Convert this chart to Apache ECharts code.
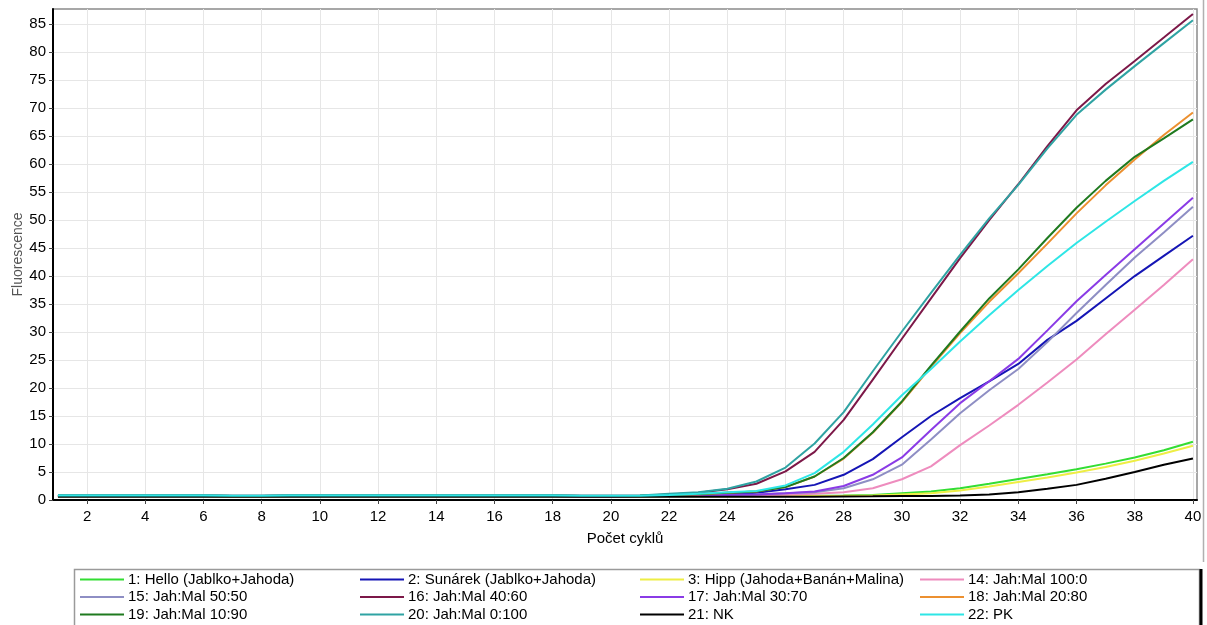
<!DOCTYPE html>
<html>
<head>
<meta charset="utf-8">
<script src="https://cdn.jsdelivr.net/npm/echarts@6/dist/echarts.min.js"></script>
<style>
  html, body { margin: 0; padding: 0; background: #fff; }
  #chart { width: 1207px; height: 625px; }
</style>
</head>
<body>
<div id="chart"></div>
<script>
// qPCR amplification curves: fluorescence per cycle for each sample
const cycles = [1,2,3,4,5,6,7,8,9,10,11,12,13,14,15,16,17,18,19,20,21,22,23,24,25,26,27,28,29,30,31,32,33,34,35,36,37,38,39,40];

const xTickValues = [2,4,6,8,10,12,14,16,18,20,22,24,26,28,30,32,34,36,38,40];
const yTickValues = [0,5,10,15,20,25,30,35,40,45,50,55,60,65,70,75,80,85];

const seriesNames = [
  '1: Hello (Jablko+Jahoda)', '2: Sunárek (Jablko+Jahoda)', '3: Hipp (Jahoda+Banán+Malina)', '14: Jah:Mal 100:0',
  '15: Jah:Mal 50:50', '16: Jah:Mal 40:60', '17: Jah:Mal 30:70', '18: Jah:Mal 20:80',
  '19: Jah:Mal 10:90', '20: Jah:Mal 0:100', '21: NK', '22: PK'
];

const seriesColors = [
  '#33dd33', '#1515b5', '#eeee44', '#ee8cbe',
  '#8e8ec4', '#7c1848', '#8a3be6', '#ec9030',
  '#1f7a1f', '#2fa3a3', '#000000', '#2ee6e6'
];

const hello = [0.7,0.7,0.7,0.7,0.7,0.7,0.68,0.68,0.7,0.7, 0.7,0.7,0.7,0.7,0.7,0.7,0.7,0.7,0.66,0.66, 0.68,0.7,0.7,0.7,0.7,0.7,0.75,0.8,0.9,1.2, 1.5,2.1,2.9,3.75,4.6,5.5,6.5,7.6,8.9,10.4];
const sunarek = [0.75,0.75,0.75,0.75,0.75,0.75,0.72,0.72,0.75,0.75, 0.75,0.75,0.75,0.75,0.75,0.75,0.75,0.75,0.7,0.7, 0.72,0.8,0.85,1.0,1.3,1.9,2.7,4.5,7.3,11.2, 15.0,18.2,21.2,24.3,28.6,32.0,36.0,40.0,43.6,47.2];
const hipp = [0.65,0.65,0.65,0.65,0.65,0.65,0.63,0.63,0.65,0.65, 0.65,0.65,0.65,0.65,0.65,0.65,0.65,0.65,0.62,0.62, 0.63,0.65,0.65,0.66,0.68,0.7,0.72,0.75,0.8,1.0, 1.2,1.7,2.4,3.2,4.0,4.9,5.9,7.0,8.3,9.7];
const jahMal100_0 = [0.7,0.7,0.7,0.7,0.7,0.7,0.68,0.68,0.7,0.7, 0.7,0.7,0.7,0.7,0.7,0.7,0.7,0.7,0.66,0.66, 0.68,0.7,0.75,0.8,0.85,0.95,1.1,1.4,2.1,3.7, 6.0,9.8,13.3,17.0,21.0,25.1,29.6,34.0,38.4,43.0];
const jahMal50_50 = [0.72,0.72,0.72,0.72,0.72,0.72,0.7,0.7,0.72,0.72, 0.72,0.72,0.72,0.72,0.72,0.72,0.72,0.72,0.68,0.68, 0.7,0.75,0.8,0.9,1.0,1.2,1.4,2.1,3.7,6.3, 10.8,15.5,19.6,23.4,28.2,33.4,38.4,43.3,47.8,52.4];
const jahMal40_60 = [0.8,0.8,0.8,0.8,0.8,0.8,0.76,0.76,0.8,0.8, 0.8,0.8,0.8,0.8,0.8,0.8,0.8,0.8,0.74,0.74, 0.78,1.0,1.3,1.9,2.9,5.1,8.6,14.3,21.5,28.8, 36.0,43.2,50.0,56.4,63.2,69.6,74.3,78.4,82.6,86.8];
const jahMal30_70 = [0.72,0.72,0.72,0.72,0.72,0.72,0.7,0.7,0.72,0.72, 0.72,0.72,0.72,0.72,0.72,0.72,0.72,0.72,0.68,0.68, 0.7,0.75,0.8,0.9,1.0,1.2,1.5,2.5,4.5,7.6, 12.5,17.3,21.2,25.2,30.3,35.5,40.2,44.8,49.4,54.0];
const jahMal20_80 = [0.75,0.75,0.75,0.75,0.75,0.75,0.72,0.72,0.75,0.75, 0.75,0.75,0.75,0.75,0.75,0.75,0.75,0.75,0.7,0.7, 0.74,0.9,1.0,1.3,1.5,2.3,4.2,7.4,12.0,17.5, 23.8,29.8,35.4,40.5,45.8,51.2,56.2,60.8,65.2,69.2];
const jahMal10_90 = [0.76,0.76,0.76,0.76,0.76,0.76,0.73,0.73,0.76,0.76, 0.76,0.76,0.76,0.76,0.76,0.76,0.76,0.76,0.71,0.71, 0.75,0.9,1.05,1.3,1.5,2.3,4.2,7.5,12.1,17.6, 24.0,30.1,36.0,41.2,46.8,52.2,57.0,61.3,64.6,68.0];
const jahMal0_100 = [0.85,0.85,0.85,0.85,0.85,0.85,0.78,0.78,0.85,0.85, 0.85,0.85,0.85,0.85,0.85,0.85,0.85,0.85,0.76,0.76, 0.8,1.1,1.4,2.0,3.3,5.8,10.1,15.7,23.0,30.1, 37.0,43.8,50.3,56.3,62.8,68.8,73.3,77.5,81.6,85.7];
const nk = [0.6,0.6,0.6,0.6,0.6,0.6,0.58,0.58,0.6,0.6, 0.6,0.6,0.6,0.6,0.6,0.6,0.6,0.6,0.57,0.57, 0.58,0.6,0.6,0.6,0.6,0.6,0.6,0.62,0.65,0.7, 0.7,0.8,1.0,1.4,2.0,2.7,3.8,5.0,6.3,7.4];
const pk = [0.82,0.82,0.82,0.82,0.82,0.82,0.76,0.76,0.82,0.82, 0.82,0.82,0.82,0.82,0.82,0.82,0.82,0.82,0.74,0.74, 0.78,0.9,1.1,1.4,1.6,2.6,4.8,8.6,13.5,18.7, 23.4,28.3,33.0,37.5,41.8,45.9,49.7,53.4,57.0,60.4];

const seriesValues = [hello, sunarek, hipp, jahMal100_0, jahMal50_50, jahMal40_60, jahMal30_70, jahMal20_80, jahMal10_90, jahMal0_100, nk, pk];

const FONT = '"Liberation Sans", Arial, sans-serif';

const series = seriesNames.map((name, i) => ({
  name: name,
  type: 'line',
  showSymbol: false,
  symbol: 'none',
  smooth: false,
  color: seriesColors[i],
  lineStyle: { width: 2, color: seriesColors[i] },
  emphasis: { disabled: true },
  data: cycles.map((c, k) => [c, seriesValues[i][k]])
}));

// four legend columns, three rows each (row-major order of the names)
const legendCols = [80, 360, 640, 920];
const legends = legendCols.map((left, col) => ({
  orient: 'vertical',
  left: left,
  top: 571,
  padding: 0,
  itemGap: 0.5,
  itemWidth: 44,
  itemHeight: 2,
  icon: 'rect',
  selectedMode: false,
  textStyle: { fontFamily: FONT, fontSize: 15, color: '#000', lineHeight: 17, padding: [0, 0, 0, -1] },
  data: [seriesNames[col], seriesNames[col + 4], seriesNames[col + 8]]
}));

const chart = echarts.init(document.getElementById('chart'), null, { renderer: 'canvas' });
chart.setOption({
  animation: false,
  backgroundColor: '#ffffff',
  grid: {
    left: 53, right: 10, top: 9, bottom: 125,
    containLabel: false,
    outerBoundsMode: 'none',
    show: true, borderColor: '#8a8a8a', borderWidth: 1.5, backgroundColor: '#ffffff'
  },
  legend: legends,
  xAxis: {
    type: 'value',
    min: 0.83,
    max: 40.14,
    name: 'Počet cyklů',
    nameLocation: 'middle',
    nameGap: 31,
    nameTextStyle: { fontFamily: FONT, fontSize: 15, color: '#000' },
    axisLine: { show: true, onZero: false, lineStyle: { color: '#000', width: 2 } },
    axisTick: { show: true, length: 4, customValues: xTickValues, lineStyle: { color: '#444' } },
    axisLabel: { customValues: xTickValues, margin: 9, fontFamily: FONT, fontSize: 15, color: '#000' },
    splitLine: { show: true, lineStyle: { color: '#e6e6e6', width: 1 } }
  },
  yAxis: {
    type: 'value',
    min: 0,
    max: 87.7,
    name: 'Fluorescence',
    nameLocation: 'middle',
    nameGap: 28,
    nameMoveOverlap: false,
    nameRotate: 90,
    nameTextStyle: { fontFamily: FONT, fontSize: 14, color: '#555' },
    axisLine: { show: true, onZero: false, lineStyle: { color: '#000', width: 2 } },
    axisTick: { show: true, length: 4, customValues: yTickValues, lineStyle: { color: '#444' } },
    axisLabel: { customValues: yTickValues, margin: 7, fontFamily: FONT, fontSize: 15, color: '#000' },
    splitLine: { show: true, lineStyle: { color: '#e6e6e6', width: 1 } }
  },
  graphic: [
    // legend frame
    { type: 'rect', silent: true, shape: { x: 74.5, y: 569.5, width: 1125, height: 80 },
      style: { fill: 'none', stroke: '#9a9a9a', lineWidth: 1.5 } },
    { type: 'line', silent: true, shape: { x1: 1201, y1: 569, x2: 1201, y2: 625 },
      style: { stroke: '#000', lineWidth: 3 } },
    // outer panel edge on the right
    { type: 'line', silent: true, shape: { x1: 1203.5, y1: 0, x2: 1203.5, y2: 562 },
      style: { stroke: '#b0b0b0', lineWidth: 1.5 } }
  ],
  series: series
});
</script>
</body>
</html>
